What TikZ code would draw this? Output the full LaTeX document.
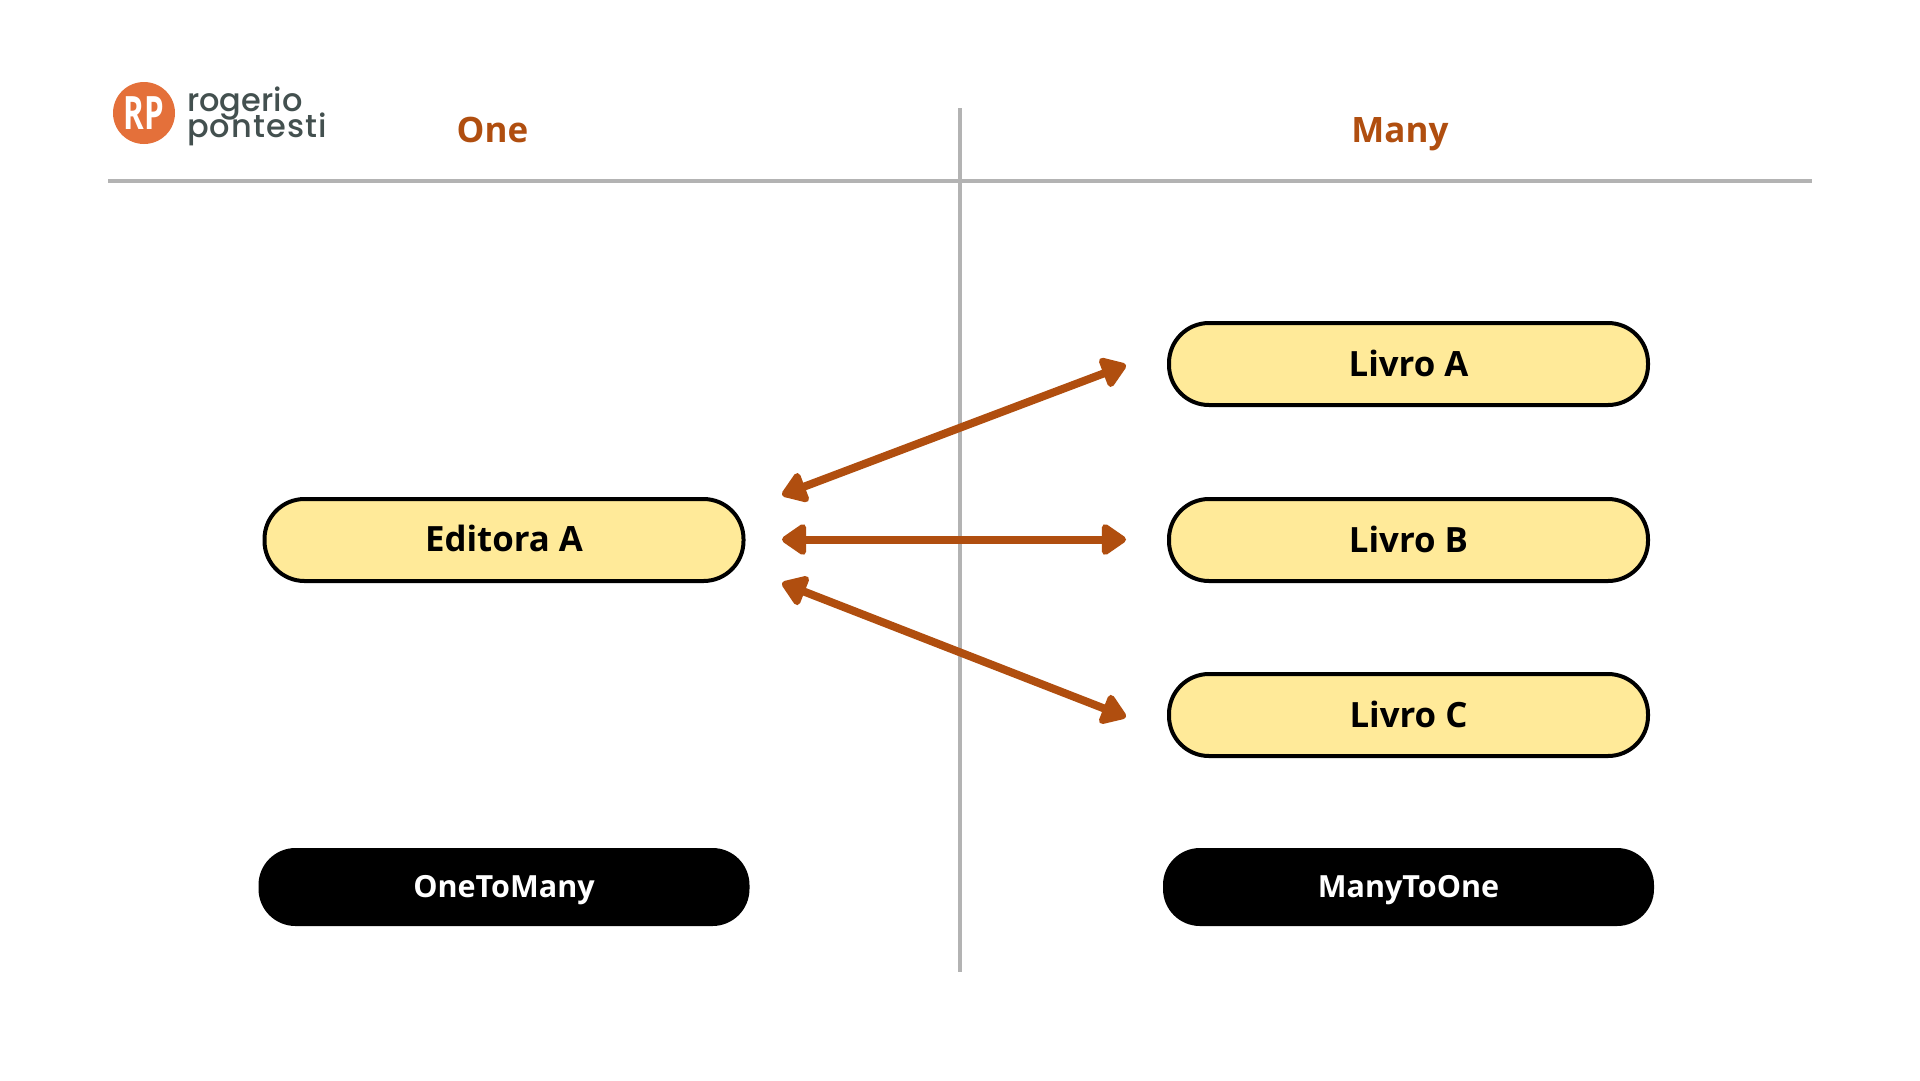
\documentclass[tikz,border=0pt]{standalone}
\usepackage{fontspec}
\setmainfont{Open Sans}
\newfontfamily\logofont{Poppins Medium}
\newfontfamily\logofontwide[LetterSpace=3.5]{Poppins Medium}
\usetikzlibrary{arrows.meta}
\definecolor{rust}{HTML}{B04E0F}
\definecolor{rule}{HTML}{B3B3B3}
\definecolor{pale}{HTML}{FFEA99}
\definecolor{logoorange}{HTML}{E4703A}
\definecolor{logogrey}{HTML}{43504F}
\tikzset{
  x=1pt,y=-1pt,
  pill/.style={draw=black,line width=4pt,fill=pale,rounded corners=40pt,minimum width=479pt,minimum height=82pt,inner sep=0pt,text height=22pt,text depth=0pt,font=\bfseries\fontsize{34.8}{36}\selectfont,text=black},
  tag/.style={fill=black,rounded corners=37pt,minimum width=491pt,minimum height=78pt,inner sep=0pt,text height=21.8pt,text depth=0pt,font=\bfseries\fontsize{30.5}{32}\selectfont,text=white},
  head/.style={text=rust,text height=24.6pt,text depth=0pt,font=\bfseries\fontsize{35}{36}\selectfont,inner sep=0pt},
  rulerline/.style={draw=rule,line width=4pt},
  link/.style={draw=rust,line width=8pt,{Triangle[length=27pt,width=35pt,round]}-{Triangle[length=27pt,width=35pt,round]},line join=round},
  logotext/.style={text=logogrey,inner sep=0pt,anchor=base west,font=\logofont\fontsize{32}{36}\selectfont}
}
\begin{document}
\begin{tikzpicture}
\useasboundingbox[fill=white] (0,0) rectangle (1920,1080);
\coordinate (hl) at (108,181); \coordinate (hr) at (1812,181);
\coordinate (vt) at (960,108); \coordinate (vb) at (960,972);
\draw[rulerline] (hl) -- (hr);
\draw[rulerline] (vt) -- (vb);
\node[head] (one) at (492.5,130) {One};
\node[head] (many) at (1400,130) {Many};
\node[pill] (editora) at (504,540) {Editora A};
\node[pill,text height=24pt] (livroa) at (1408.5,364) {Livro A};
\node[pill,text height=24pt] (livrob) at (1408.5,540) {Livro B};
\node[pill,text height=24pt] (livroc) at (1408.5,715) {Livro C};
\node[tag] (otm) at (504,887) {OneToMany};
\node[tag] (mto) at (1408.5,887) {ManyToOne};
\coordinate (la) at (782,495); \coordinate (ra) at (1126,365);
\coordinate (lb) at (782,539.5); \coordinate (rb) at (1126,539.5);
\coordinate (lc) at (782,583); \coordinate (rc) at (1126,717);
\draw[link] (la) -- (ra);
\draw[link] (lb) -- (rb);
\draw[link] (lc) -- (rc);
\node[circle,fill=logoorange,minimum size=62pt,inner sep=0pt,text=white,font=\bfseries\fontsize{46}{46}\selectfont] (logo) at (144,113) {\scalebox{0.68}[1]{RP}};
\node[logotext] (rog) at (187,111) {rogerio};
\node[logotext,font=\logofontwide\fontsize{32}{36}\selectfont] (pon) at (187,137) {pontesti};
\end{tikzpicture}
\end{document}
